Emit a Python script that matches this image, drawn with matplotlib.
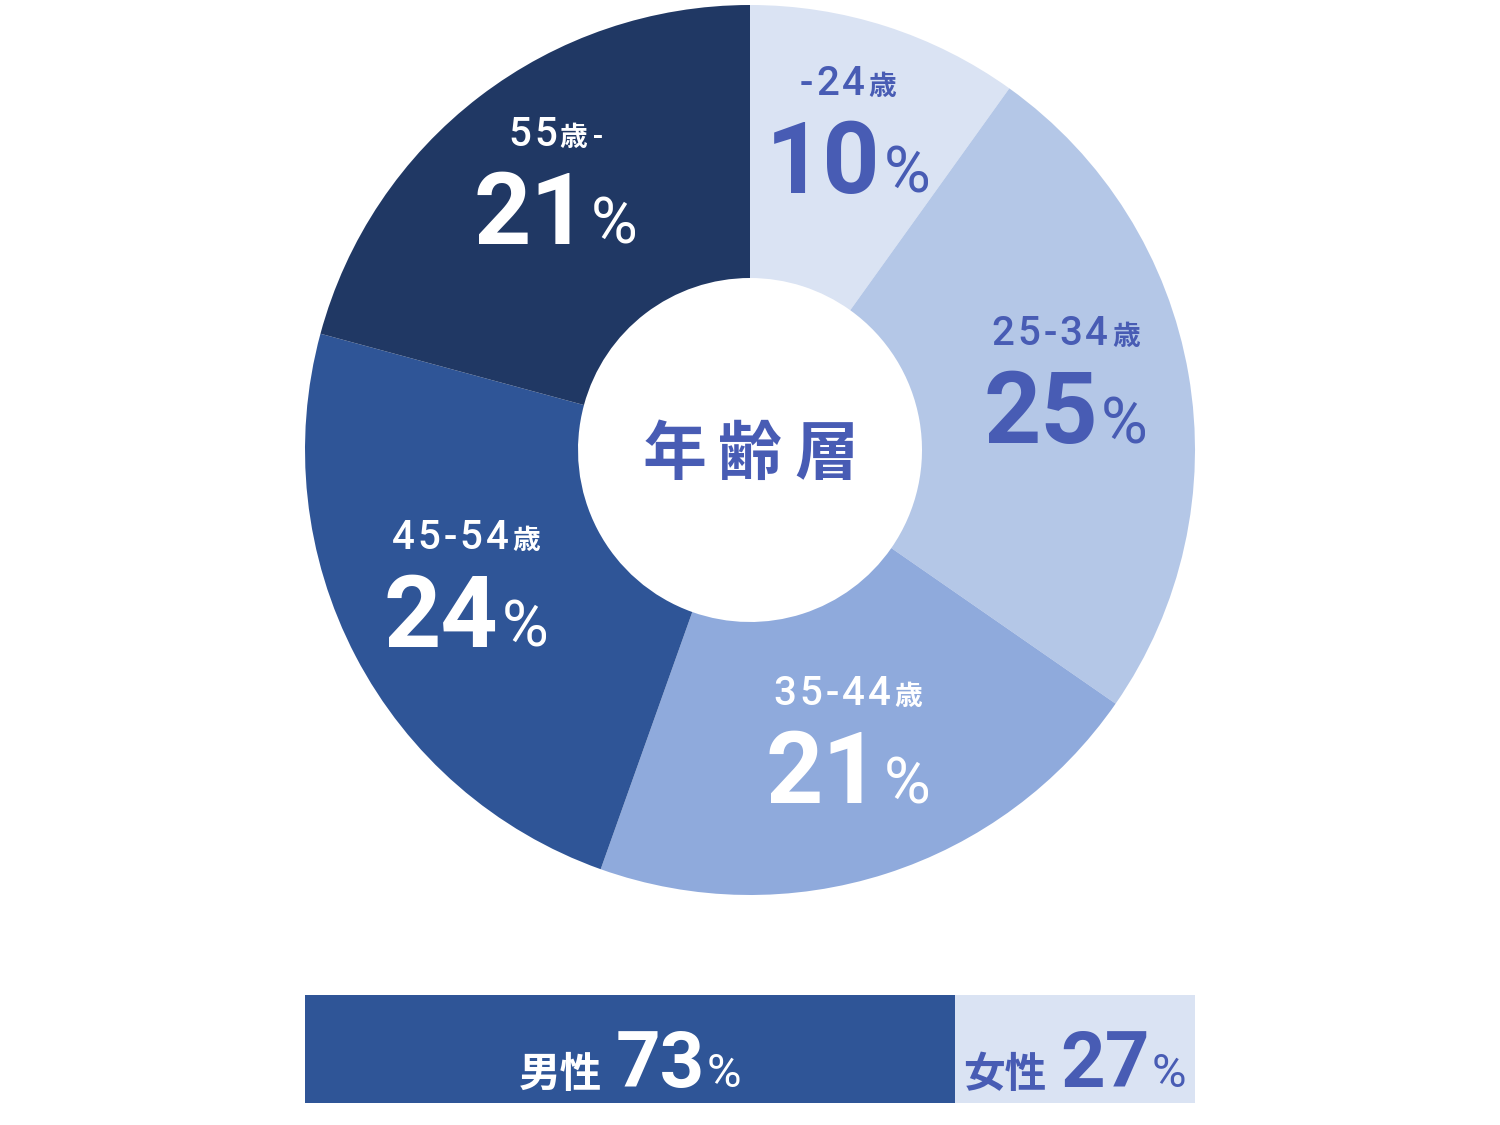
import matplotlib
matplotlib.use("Agg")
import matplotlib.pyplot as plt
import numpy as np
from matplotlib.transforms import IdentityTransform

# data
age_groups = ["-24", "25-34", "35-44", "45-54", "55-"]
age_share = [10, 25, 21, 24, 21]
age_colors = ["#dae3f3", "#b4c7e7", "#8faadc", "#2f5597", "#203864"]
age_text_colors = ["#485cb4", "#485cb4", "white", "white", "white"]

genders = ["男性", "女性"]
gender_share = [73, 27]
gender_colors = ["#2f5597", "#dae3f3"]
gender_text_colors = ["white", "#485cb4"]

FONT = ["Roboto", "Noto Sans CJK JP", "DejaVu Sans"]
W, H = 1500, 1125

fig = plt.figure(figsize=(15, 11.25), dpi=100)
renderer = fig.canvas.get_renderer()


def draw_run(pieces, cx, by, color):
    """pieces: (text, size, weight, gap after in px); centred on cx, baseline by (display px)"""
    texts, widths = [], []
    for s, size, weight, gap in pieces:
        t = fig.text(0, by, s, fontsize=size, fontweight=weight, color=color,
                     family=FONT, ha="left", va="baseline",
                     transform=IdentityTransform())
        texts.append(t)
        widths.append(t.get_window_extent(renderer).width + gap)
    total = sum(widths) - pieces[-1][3]
    x = cx - total / 2
    for t, w in zip(texts, widths):
        t.set_x(x)
        x += w


def spaced(s, size, weight, track):
    return [(c, size, weight, track) for c in s]


# donut
ax = fig.add_axes([305 / W, (H - 895) / H, 890 / W, 890 / H])
wedges, _ = ax.pie(age_share, colors=age_colors, startangle=90, counterclock=False,
                   radius=1.0, wedgeprops=dict(width=1 - 172 / 445, linewidth=0))
ax.set_xlim(-1, 1)
ax.set_ylim(-1, 1)
ax.set_aspect("equal")
ax.axis("off")

for w, grp, val, tc in zip(wedges, age_groups, age_share, age_text_colors):
    mid = np.deg2rad((w.theta1 + w.theta2) / 2)
    px, py = ax.transData.transform((0.72 * np.cos(mid), 0.72 * np.sin(mid)))
    if grp.endswith("-"):
        label = spaced(grp[:-1], 29, "medium", 3) + [("歳", 20, "bold", 5), ("-", 22, "medium", 0)]
    else:
        label = spaced(grp, 29, "medium", 3)
        label[-1] = (label[-1][0], 29, "medium", 4)
        label += [("歳", 20, "bold", 0)]
    draw_run(label, px, py + 50, tc)
    draw_run([(str(val), 72, "bold", 3), ("%", 46, "normal", 0)], px, py - 48, tc)

cx, cy = ax.transData.transform((0, 0))
draw_run(spaced("年齢層", 46, "bold", 12), cx, cy - 24, "#485cb4")

# gender bar
bx = fig.add_axes([305 / W, (H - 1103) / H, 890 / W, 108 / H])
left = 0
bars = []
for g, v, c in zip(genders, gender_share, gender_colors):
    bars.append(bx.barh(0, v, left=left, height=1, color=c, linewidth=0)[0])
    left += v
bx.set_xlim(0, sum(gender_share))
bx.set_ylim(-0.5, 0.5)
bx.axis("off")

for b, g, v, tc in zip(bars, genders, gender_share, gender_text_colors):
    mx, my = bx.transData.transform((b.get_x() + b.get_width() / 2, 0))
    draw_run([(g, 30, "bold", 14), (str(v), 56, "bold", 2), ("%", 34, "normal", 0)],
             mx, my - 38, tc)

fig.savefig("out.png", dpi=100)
